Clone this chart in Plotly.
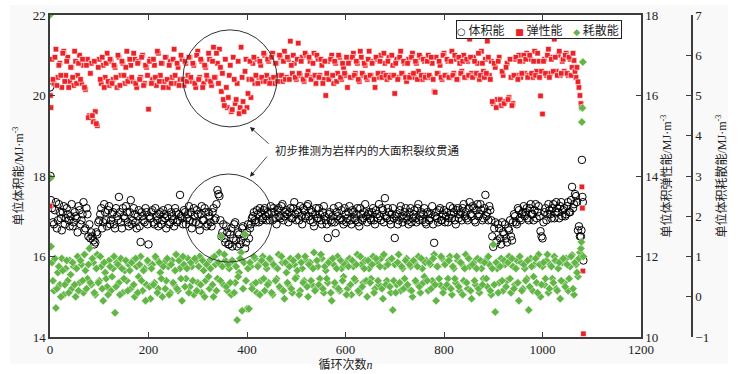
import plotly.graph_objects as go

# ---------------- data ----------------
# cycle numbers: first cycles, every 4th cycle (two interleaved sets), last cycles
cycles_start = [0, 1, 2]
cycles_mid = list(range(4, 1077, 4))
cycles_mid_b = list(range(6, 1075, 4))
cycles_end = [1078, 1079, 1080, 1081, 1082, 1083]

# total energy per unit volume (MJ/m^3), left axis
total_start = [20.2, 18.0, 17.4]
total_mid = [
    17.2, 16.8, 17.35, 16.9, 17.1, 16.65, 17.25, 16.95, 17.05, 16.75,
    17.3, 16.85, 17.0, 16.6, 17.15, 16.9, 17.35, 16.7, 17.05, 16.8,
    16.6, 16.4, 16.35, 16.55, 16.9, 17.2, 16.85, 17.1, 16.75, 17.25,
    16.9, 17.1, 16.7, 17.0, 17.48, 16.85, 17.2, 16.95, 17.1, 16.75,
    17.4, 16.9, 17.05, 16.7, 17.15, 16.36, 17.0, 16.85, 17.1, 16.3,
    16.95, 17.15, 16.8, 17.0, 16.75, 17.1, 16.9, 17.05, 16.7, 17.2,
    16.85, 17.0, 16.75, 17.1, 16.9, 17.53, 16.95, 17.15, 16.8, 17.05,
    16.9, 16.7, 17.2, 16.85, 17.05, 16.65, 17.25, 16.9, 17.1, 16.8,
    17.0, 16.75, 17.2, 16.95, 17.65, 17.5, 16.5, 16.8, 16.35, 16.6,
    16.3, 16.7, 16.45, 16.85, 16.25, 16.55, 16.4, 16.75, 16.2, 16.6,
    16.45, 16.8, 17.0, 16.9, 17.15, 16.85, 17.1, 16.95, 17.2, 16.9,
    17.05, 17.25, 16.9, 17.1, 16.8, 17.2, 16.95, 17.3, 17.0, 17.15,
    16.85, 17.2, 16.95, 17.35, 16.9, 17.1, 17.25, 16.8, 17.15, 17.0,
    17.3, 16.9, 17.1, 16.75, 17.2, 16.95, 17.05, 16.8, 17.25, 16.9,
    16.46, 17.1, 16.85, 17.2, 16.58, 17.0, 16.9, 17.15, 16.8, 17.05,
    16.95, 17.25, 16.8, 17.1, 16.9, 17.2, 16.75, 17.05, 16.95, 17.3,
    16.85, 17.1, 16.9, 17.2, 16.8, 17.05, 17.3, 16.9, 17.15, 17.45,
    16.95, 17.1, 16.8, 17.2, 16.46, 17.05, 16.9, 17.25, 16.85, 17.1,
    17.0, 16.8, 17.2, 16.95, 17.15, 16.85, 17.3, 17.0, 16.9, 17.2,
    16.8, 17.05, 16.95, 17.25, 16.34, 17.1, 16.85, 17.2, 16.9, 17.15,
    17.0, 16.85, 17.25, 16.95, 17.1, 16.8, 17.2, 17.05, 16.9, 17.3,
    17.1, 16.9, 17.35, 17.0, 17.2, 16.85, 17.3, 17.05, 17.15, 16.95,
    17.53, 17.1, 17.25, 16.9, 16.24, 16.85, 16.4, 16.7, 16.3, 16.6,
    16.8, 16.35, 16.65, 16.5, 16.85, 17.0, 16.8, 17.15, 16.9, 17.1,
    17.0, 17.2, 16.9, 17.3, 17.05, 17.15, 16.95, 17.25, 16.63, 16.45,
    17.1, 16.9, 17.3, 17.05, 17.2, 16.95, 17.35, 17.1, 17.25, 17.0,
    17.2, 17.05, 17.35, 17.1, 17.73, 17.3, 17.5, 16.65, 16.5,
]
total_mid_b = [
    16.85, 17.15, 16.7, 17.3, 16.95, 17.1, 16.8, 17.2, 16.9, 17.0,
    16.75, 17.1, 16.95, 17.25, 16.8, 17.05, 16.65, 17.2, 16.5, 16.45,
    16.5, 16.3, 16.6, 16.85, 17.05, 16.7, 17.3, 16.9, 17.15, 16.8,
    17.05, 16.8, 17.2, 16.9, 17.1, 16.7, 17.0, 17.25, 16.85, 17.1,
    16.8, 17.2, 16.85, 17.0, 16.75, 17.1, 16.9, 17.2, 16.8, 17.0,
    17.1, 16.85, 17.2, 16.9, 17.05, 16.8, 17.15, 16.95, 17.0, 16.8,
    17.1, 16.9, 17.2, 16.85, 17.05, 17.0, 16.8, 17.1, 16.95, 17.25,
    17.1, 16.85, 17.0, 17.15, 16.8, 17.05, 16.9, 17.2, 16.75, 17.1,
    16.85, 17.1, 16.9, 17.3, 17.55, 16.9, 16.6, 16.45, 16.75, 16.3,
    16.55, 16.25, 16.8, 16.4, 16.6, 16.3, 16.7, 16.5, 16.35, 16.8,
    16.7, 16.95, 17.1, 16.85, 17.05, 17.2, 16.9, 17.15, 17.0, 17.1,
    16.9, 17.1, 17.2, 16.95, 17.15, 17.0, 17.25, 16.9, 17.1, 17.05,
    17.1, 16.95, 17.2, 17.05, 17.15, 16.9, 17.0, 17.2, 16.95, 17.25,
    17.0, 17.15, 16.85, 17.05, 16.95, 17.2, 16.9, 17.1, 17.0, 16.8,
    17.05, 16.9, 17.0, 16.85, 17.1, 17.25, 16.95, 16.9, 17.2, 16.85,
    17.1, 16.9, 17.15, 16.95, 17.05, 16.85, 17.2, 16.9, 17.1, 17.0,
    17.05, 16.95, 17.1, 16.9, 17.15, 16.95, 17.0, 17.2, 16.85, 17.0,
    17.2, 16.9, 17.05, 16.95, 17.0, 16.8, 17.15, 17.0, 16.95, 17.2,
    16.9, 17.1, 16.85, 17.05, 16.95, 17.2, 16.9, 17.1, 17.05, 16.85,
    17.1, 16.9, 17.05, 16.8, 17.0, 16.95, 17.15, 16.9, 17.05, 16.85,
    17.1, 16.95, 17.05, 17.2, 16.9, 17.15, 16.95, 17.1, 17.2, 17.0,
    16.95, 17.2, 17.05, 17.25, 16.9, 17.15, 17.0, 17.3, 16.9, 17.2,
    17.0, 16.9, 17.15, 16.5, 16.7, 16.35, 16.8, 16.45, 16.85, 16.55,
    16.45, 16.7, 16.9, 16.4, 17.05, 16.85, 17.2, 16.95, 17.05, 17.25,
    17.1, 16.95, 17.2, 17.05, 16.9, 17.3, 17.1, 17.0, 16.5, 16.85,
    17.2, 17.05, 17.15, 16.95, 17.3, 17.1, 17.2, 16.95, 17.35, 17.15,
    17.0, 17.25, 17.1, 17.4, 17.2, 17.55, 17.35, 16.75,
]
total_end = [16.5, 16.65, 18.4, 17.48, 17.35, 15.9]

# elastic energy per unit volume (MJ/m^3), right axis 1
elastic_start = [13.25, 16.0, 15.7]
elastic_mid = [
    16.9, 16.3, 17.15, 16.45, 16.8, 16.2, 17.1, 16.5, 16.95, 16.35,
    16.7, 16.25, 16.85, 16.5, 17.0, 16.3, 16.75, 16.15, 16.9, 15.5,
    16.8, 15.35, 15.6, 15.25, 16.9, 16.3, 16.75, 16.45, 17.05, 16.25,
    16.85, 16.4, 16.7, 16.2, 16.95, 16.5, 16.8, 16.3, 17.1, 16.4,
    16.75, 16.35, 16.9, 16.2, 16.85, 16.45, 17.0, 16.3, 16.7, 15.66,
    16.9, 16.4, 16.75, 16.25, 17.05, 16.5, 16.8, 16.35, 16.95, 16.2,
    16.85, 16.45, 17.15, 16.3, 16.7, 16.4, 16.9, 16.25, 16.8, 16.5,
    16.95, 16.35, 16.75, 16.2, 17.1, 16.45, 16.85, 16.3, 16.7, 16.4,
    16.9, 16.25, 17.2, 16.45, 16.8, 17.15, 16.1, 15.9, 16.9, 15.7,
    16.5, 15.6, 16.95, 15.8, 16.3, 15.55, 17.2, 15.85, 16.6, 15.7,
    16.4, 15.95, 16.8, 16.3, 16.9, 16.45, 16.75, 16.35, 17.0, 16.5,
    16.85, 16.4, 17.05, 16.3, 16.8, 16.5, 16.95, 16.35, 17.1, 16.45,
    16.9, 17.35, 16.55, 16.8, 16.4, 17.3, 16.5, 16.95, 16.35, 17.0,
    16.6, 16.85, 16.45, 17.05, 16.3, 16.9, 16.5, 16.75, 16.4, 16.0,
    16.85, 16.45, 17.0, 16.3, 16.8, 16.55, 16.95, 16.4, 16.7, 16.5,
    16.2, 16.9, 16.45, 17.05, 16.55, 16.8, 16.35, 16.95, 16.5, 16.75,
    16.4, 17.1, 16.5, 16.85, 16.2, 16.9, 16.45, 17.0, 16.55, 16.8,
    16.4, 16.95, 16.5, 16.75, 16.05, 16.9, 16.45, 17.1, 16.55, 16.8,
    16.35, 16.9, 16.5, 17.05, 16.45, 16.8, 16.6, 16.95, 16.4, 16.85,
    16.5, 17.0, 16.45, 16.8, 16.1, 16.95, 16.55, 16.75, 16.4, 17.05,
    16.5, 16.85, 16.45, 17.1, 16.55, 16.9, 16.4, 16.8, 16.6, 17.0,
    16.45, 16.85, 17.4, 16.55, 16.95, 16.5, 16.8, 16.4, 17.1, 16.6,
    16.9, 17.35, 16.5, 16.85, 15.8, 16.7, 15.9, 16.95, 15.75, 16.5,
    15.85, 16.8, 15.95, 16.45, 15.8, 16.9, 16.5, 17.0, 16.45, 16.85,
    16.55, 17.05, 16.5, 16.9, 16.45, 17.1, 16.6, 16.85, 15.99, 15.54,
    16.9, 16.5, 17.15, 16.55, 16.95, 17.4, 16.6, 17.0, 16.5, 16.85,
    16.6, 17.05, 16.5, 16.9, 16.7, 16.87, 16.45, 16.34, 16.0,
]
elastic_mid_b = [
    16.4, 16.95, 16.25, 16.75, 16.5, 17.05, 16.35, 16.85, 16.2, 16.7,
    16.45, 17.1, 16.3, 16.8, 16.4, 16.9, 16.2, 16.75, 15.45, 16.55,
    15.5, 16.85, 15.3, 16.7, 16.4, 16.95, 16.2, 16.8, 16.35, 16.9,
    16.3, 16.75, 16.45, 17.0, 16.25, 16.85, 16.5, 16.7, 16.35, 16.9,
    16.45, 17.05, 16.3, 16.8, 16.4, 16.95, 16.25, 16.75, 16.5, 16.85,
    16.3, 16.9, 16.45, 17.1, 16.35, 16.8, 16.2, 16.95, 16.4, 16.75,
    16.3, 16.9, 16.5, 16.8, 16.25, 17.0, 16.4, 16.85, 16.35, 16.95,
    16.45, 16.8, 16.3, 17.0, 16.4, 16.9, 16.2, 16.75, 16.5, 17.05,
    16.35, 16.85, 16.45, 17.05, 16.3, 16.7, 16.55, 15.75, 16.2, 15.95,
    16.75, 15.65, 16.4, 15.9, 16.85, 15.7, 16.45, 15.6, 16.9, 16.05,
    16.85, 16.4, 16.95, 16.5, 16.3, 16.85, 16.45, 17.05, 16.35, 16.9,
    16.3, 16.95, 16.45, 16.8, 16.35, 17.0, 16.5, 16.85, 16.4, 16.95,
    16.4, 16.75, 17.0, 16.45, 16.9, 16.55, 16.85, 16.4, 17.05, 16.5,
    16.95, 16.4, 16.8, 16.5, 17.0, 16.45, 16.9, 16.3, 16.85, 16.55,
    16.4, 16.9, 16.5, 16.85, 16.35, 17.0, 16.45, 16.8, 16.55, 16.95,
    16.8, 16.45, 16.95, 16.5, 16.85, 16.4, 17.1, 16.55, 16.8, 16.45,
    16.9, 16.5, 16.8, 16.4, 16.95, 16.55, 16.85, 16.45, 17.05, 16.5,
    16.85, 16.45, 17.0, 16.5, 16.8, 16.4, 16.95, 16.55, 16.85, 16.45,
    16.8, 16.45, 16.95, 16.55, 16.85, 16.4, 17.0, 16.5, 16.9, 16.45,
    16.85, 16.5, 16.95, 16.4, 16.08, 16.55, 16.85, 16.45, 17.0, 16.5,
    16.9, 16.45, 16.85, 16.5, 17.0, 16.4, 16.95, 16.55, 16.85, 16.45,
    16.9, 16.5, 16.95, 16.45, 16.85, 16.55, 17.05, 16.5, 16.8, 16.45,
    16.55, 16.95, 16.4, 15.85, 16.8, 15.7, 16.85, 15.9, 16.6, 15.8,
    16.7, 15.9, 16.9, 15.75, 16.5, 16.95, 16.4, 16.85, 16.55, 17.0,
    16.9, 16.45, 17.0, 16.55, 16.85, 16.5, 17.05, 16.45, 16.6, 16.85,
    16.55, 17.0, 16.45, 16.9, 16.6, 16.95, 16.5, 17.1, 16.55, 16.9,
    17.0, 16.55, 16.95, 16.5, 17.05, 16.6, 16.7, 16.2,
]
elastic_end = [15.8, 15.7, 13.73, 13.2, 11.64, 10.08]

# dissipated energy per unit volume (MJ/m^3), right axis 2
dissip_start = [7.0, 2.95, 1.25]
dissip_mid = [
    0.85, 0.15, -0.28, 0.6, 0.3, 0.95, 0.05, 0.7, 0.4, 0.9,
    0.2, 0.75, 0.0, 1.0, 0.35, 0.8, 0.1, 0.65, 0.45, 1.2,
    0.3, 0.85, 0.05, 1.05, 0.4, 0.75, -0.1, 0.6, 0.25, 0.9,
    0.15, 0.7, -0.4, 0.85, 0.35, 0.95, 0.1, 0.65, 0.4, 0.8,
    0.2, 0.9, 0.0, 0.75, 0.5, 1.0, 0.15, 0.7, 0.3, 0.85,
    -0.05, 0.8, 0.35, 0.95, 0.2, 0.6, 0.0, 0.85, 0.4, 0.75,
    0.1, 0.9, 0.3, 1.05, 0.15, 0.7, -0.1, 0.8, 0.45, 0.95,
    0.25, 0.75, 0.05, 0.9, 0.35, 1.0, 0.1, 0.65, 0.4, 0.85,
    0.2, 0.95, 0.0, 0.8, 0.45, 1.1, 1.5, 0.3, 0.9, 0.15,
    0.7, 0.05, 0.85, 0.35, -0.58, 0.6, 1.1, 0.2, 1.55, -0.3,
    -0.3, 0.75, 0.3, 0.95, 0.1, 0.8, 0.4, 1.0, 0.15, 0.7,
    0.35, 0.9, 0.05, 0.75, 0.45, 1.05, 0.2, 0.85, -0.05, 0.6,
    0.3, 0.95, 0.1, 0.8, 0.5, 1.0, 0.15, 0.7, 0.4, 0.9,
    0.0, 0.85, 0.3, 1.1, 0.2, 0.75, 0.45, 0.95, 0.1, 0.65,
    0.35, 0.9, -0.1, 0.8, 0.25, 1.0, 0.15, 0.7, 0.5, 0.85,
    0.2, 0.95, 0.05, 0.75, 0.4, 1.05, 0.1, 0.8, 0.35, 0.9,
    0.0, 0.7, 0.45, 1.0, 0.2, 0.85, 0.3, 0.95, -0.05, 0.75,
    0.4, 0.9, 0.1, -0.33, 0.8, 0.3, 1.05, 0.15, 0.7, 0.45,
    0.95, 0.2, 0.75, 0.0, 0.85, 0.35, 1.0, 0.1, 0.7, 0.5,
    0.9, 0.15, 0.8, 0.4, 1.05, -0.1, 0.75, 0.3, 0.95, 0.2,
    0.85, 0.45, 1.0, 0.05, 0.7, 0.35, 0.9, 0.15, 0.8, 0.4,
    1.05, 0.2, 0.75, -0.05, 0.85, 0.3, 0.95, 0.1, 0.7, 0.45,
    0.9, 0.25, 0.8, 0.05, 1.3, -0.38, 0.7, 0.35, 0.95, 0.15,
    0.8, 0.4, 1.0, 0.1, 0.75, 0.3, 0.9, -0.1, 0.85, 0.2,
    0.7, 0.45, -0.33, 0.95, 0.15, 0.8, 0.35, 1.05, 0.0, 0.75,
    0.3, 0.9, 0.1, 0.8, 0.45, 1.0, 0.2, 0.7, -0.05, 0.85,
    0.35, 0.95, 0.15, 0.75, 1.04, 0.05, 0.8, 0.5, 1.1,
]
dissip_mid_b = [
    0.4, 0.95, 0.2, 0.75, 0.0, 0.65, 0.3, 0.9, 0.1, 0.55,
    0.85, 0.3, 0.7, 0.15, 0.9, 0.4, 1.05, 0.2, 0.8, 0.35,
    0.95, 0.1, 0.7, 0.35, 1.0, 0.2, 0.85, 0.45, 0.05, 0.75,
    0.5, 1.0, 0.25, 0.8, 0.05, 0.7, 0.45, 0.9, 0.15, 0.65,
    0.85, 0.3, 0.95, 0.1, 0.8, 0.4, 0.65, -0.1, 0.9, 0.25,
    0.7, 0.3, 1.0, 0.1, 0.85, 0.45, 0.75, 0.2, 0.95, 0.05,
    0.8, 0.35, 0.65, 0.2, 0.9, 0.45, 1.0, 0.25, 0.7, 0.1,
    0.85, 0.4, 0.95, 0.15, 0.75, 0.3, 0.9, 0.0, 0.8, 0.5,
    0.7, 0.3, 1.0, 0.15, 0.85, 0.4, 0.75, 1.05, 0.25, 0.8,
    0.35, 0.9, 0.1, 0.75, 0.5, 0.95, -0.35, 0.85, 0.4, 0.7,
    0.85, 0.2, 1.0, 0.35, 0.75, 0.05, 0.9, 0.45, 0.8, 0.3,
    0.95, 0.1, 0.8, 0.4, 0.7, 0.25, 1.0, 0.15, 0.85, 0.35,
    0.75, 0.2, 0.9, 0.45, 0.65, 0.05, 0.85, 0.35, 1.0, 0.25,
    0.8, 0.4, 0.7, 0.15, 0.9, 0.3, 1.05, 0.2, 0.75, 0.45,
    0.85, 0.1, 0.95, 0.35, 0.7, 0.2, 0.9, 0.4, 0.8, 0.05,
    0.75, 0.3, 0.9, 0.45, 0.8, 0.15, 1.0, 0.25, 0.7, 0.4,
    0.9, 0.35, 0.8, 0.1, 0.95, 0.4, 0.75, 0.2, 1.05, 0.3,
    0.8, 0.25, 0.95, 0.4, 0.1, 0.85, 0.35, 0.75, 0.2, 0.9,
    0.3, 0.8, 0.15, 0.9, 0.4, 0.75, 0.25, 0.95, 0.35, 0.85,
    0.4, 0.85, 0.2, 0.95, 0.3, 0.75, 0.45, 1.0, 0.1, 0.8,
    0.3, 0.9, 0.2, 0.75, 0.45, 1.0, 0.25, 0.85, 0.05, 0.7,
    0.35, 0.95, 0.15, 0.8, 0.4, 0.7, 0.2, 0.9, 0.3, 0.85,
    0.45, 1.0, 0.15, 0.7, 0.3, 0.85, 0.1, 0.75, 0.4, 0.9,
    0.25, 0.85, 0.45, 0.95, 0.2, 0.7, 0.35, 1.0, 0.15, 0.8,
    0.4, 0.9, 0.25, 0.75, 0.5, 0.95, 0.1, 0.8, 0.3, 0.85,
    0.45, 1.05, 0.2, 0.75, 0.35, 0.9, 0.15, 0.85, 0.4, 0.95,
    0.25, 0.8, 0.45, 1.0, 0.2, 0.85, 0.6, 0.95,
]
dissip_end = [1.2, 1.36, 4.34, 4.69, 5.83, 1.0]

x_ticks = [0, 200, 400, 600, 800, 1000, 1200]
legend_names = ["体积能", "弹性能", "耗散能"]
annot_text = "初步推测为岩样内的大面积裂纹贯通"

cycles = cycles_start + cycles_mid + cycles_mid_b + cycles_end
total = total_start + total_mid + total_mid_b + total_end
elastic = elastic_start + elastic_mid + elastic_mid_b + elastic_end
dissip = dissip_start + dissip_mid + dissip_mid_b + dissip_end

# ---------------- styles ----------------
RED = "#ec2227"
GREEN = "#62b646"
AX = "#3c3c3c"
SERIF = "Liberation Serif, Noto Sans CJK SC"
TITLEF = "Liberation Serif, Noto Sans CJK SC"
CJK = "Noto Sans CJK SC, Liberation Serif"

fig = go.Figure()
fig.add_trace(go.Scatter(
    x=cycles, y=total, mode="markers", name=legend_names[0], showlegend=False,
    marker=dict(symbol="circle-open", size=7.5, color="black", line=dict(width=1, color="black")),
    yaxis="y"))
fig.add_trace(go.Scatter(
    x=cycles, y=elastic, mode="markers", name=legend_names[1], showlegend=False,
    marker=dict(symbol="square", size=5.5, color=RED, line=dict(width=0.6, color="white")),
    yaxis="y2"))
fig.add_trace(go.Scatter(
    x=cycles, y=dissip, mode="markers", name=legend_names[2], showlegend=False,
    marker=dict(symbol="diamond", size=6.5, color=GREEN, line=dict(width=0.5, color="white")),
    yaxis="y3"))

W, H = 744, 374
ml, mr, mt, mb = 50, 10, 15, 37
pw = W - ml - mr
dom_end = (641 - ml) / pw
y3pos = (692 - ml) / pw

tickfont = dict(family=SERIF, size=13, color="#222")
titlefont = dict(family=TITLEF, size=12, color="#222")

fig.update_layout(
    width=W, height=H,
    margin=dict(l=ml, r=mr, t=mt, b=mb, autoexpand=False),
    paper_bgcolor="white", plot_bgcolor="rgba(0,0,0,0)",
    showlegend=False,
    xaxis=dict(domain=[0, dom_end], range=[0, 1200], tickvals=x_ticks, automargin=False,
               ticks="inside", ticklen=5, tickcolor=AX, showline=True, linecolor=AX,
               linewidth=1.5, mirror="ticks", showgrid=False, zeroline=False,
               tickfont=tickfont,
               title=dict(text="循环次数<i>n</i>", font=titlefont, standoff=0)),
    yaxis=dict(range=[14, 22], dtick=2, ticks="inside", ticklen=5, tickcolor=AX, automargin=False,
               showline=True, linecolor=AX, linewidth=1.5, mirror=True,
               showgrid=False, zeroline=False, tickfont=tickfont,
               title=dict(text="单位体积能/MJ·m<sup>-3</sup>", font=titlefont, standoff=6)),
    yaxis2=dict(range=[10, 18], dtick=2, overlaying="y", side="right", anchor="x", automargin=False,
                ticks="inside", ticklen=5, tickcolor=AX, showline=True, linecolor=AX,
                linewidth=1.5, showgrid=False, zeroline=False, tickfont=tickfont,
                title=dict(text="单位体积弹性能/MJ·m<sup>-3</sup>", font=titlefont, standoff=2)),
    yaxis3=dict(range=[-1, 7], dtick=1, overlaying="y", side="right", anchor="free", automargin=False,
                position=y3pos, ticks="inside", ticklen=5, tickcolor=AX, showline=True,
                linecolor=AX, linewidth=1.5, showgrid=False, zeroline=False,
                tickfont=tickfont,
                title=dict(text="单位体积耗散能/MJ·m<sup>-3</sup>", font=titlefont, standoff=8)),
)

# light page tone behind everything
fig.add_shape(type="rect", xref="paper", yref="paper", layer="below",
              x0=(10 - ml) / pw, x1=(728 - ml) / pw,
              y0=(337 - 364) / 322, y1=(337 - 5) / 322,
              line=dict(width=0), fillcolor="#f9f9f9")
fig.add_shape(type="rect", xref="paper", yref="paper", layer="below",
              x0=0, x1=dom_end, y0=0, y1=1, line=dict(width=0), fillcolor="white")

# circles marking the anomaly
fig.add_shape(type="circle", xref="x", yref="y", x0=270, x1=461, y0=19.22, y1=21.63,
              line=dict(color="#333", width=1))
fig.add_shape(type="circle", xref="x", yref="y", x0=274, x1=451, y0=15.86, y1=18.05,
              line=dict(color="#333", width=1))

# annotation text and arrows
fig.add_annotation(x=644, y=18.65, xref="x", yref="y", text=annot_text, showarrow=False,
                   font=dict(family=CJK, size=11.5, color="#222"))
fig.add_annotation(x=406, y=19.22, ax=447, ay=18.77, xref="x", yref="y", axref="x", ayref="y",
                   text="", showarrow=True, arrowhead=2, arrowsize=1.2, arrowwidth=0.8,
                   arrowcolor="#222")
fig.add_annotation(x=406, y=17.98, ax=443, ay=18.52, xref="x", yref="y", axref="x", ayref="y",
                   text="", showarrow=True, arrowhead=2, arrowsize=1.2, arrowwidth=0.8,
                   arrowcolor="#222")

# legend box
leg = ('<span style="font-family:DejaVu Sans;font-size:10px">○</span> ' + legend_names[0] +
       '&nbsp;&nbsp;&nbsp;&nbsp;<span style="color:' + RED + ';font-family:DejaVu Sans;font-size:9px">■</span> ' + legend_names[1] +
       '&nbsp;&nbsp;&nbsp;&nbsp;<span style="color:' + GREEN + ';font-family:DejaVu Sans;font-size:9px">◆</span> ' + legend_names[2] + '&nbsp;')
fig.add_annotation(x=(539 - ml) / pw, y=(337 - 29.5) / 322, xref="paper", yref="paper",
                   text=leg, showarrow=False, font=dict(family=CJK, size=12, color="#222"),
                   bordercolor="#222", borderwidth=1, borderpad=0, bgcolor="white",
                   xanchor="center", yanchor="middle")

fig.write_html("out.html", config={"displayModeBar": False},
               post_script="document.body.style.margin='0px';")
